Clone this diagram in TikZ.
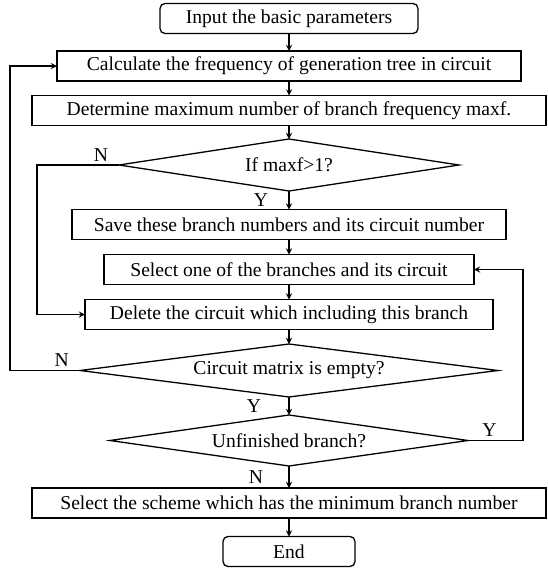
\documentclass[tikz,border=0pt]{standalone}
\usepackage{fontspec}
\setmainfont{Liberation Serif}
\usepackage{tikz}
\usetikzlibrary{positioning, arrows.meta, shapes.geometric}

\begin{document}
\begin{tikzpicture}[x=1pt,y=-1pt,>=stealth,node distance=15pt,font=\fontsize{19.6}{23}\selectfont]
\tikzstyle{process}=[draw=black,line width=1.3pt,rectangle,minimum height=30pt,inner sep=0pt,outer sep=0pt]
\tikzstyle{terminal}=[process,rounded corners=5pt]
\tikzstyle{decision}=[draw=black,line width=1.3pt,diamond,aspect=8,inner sep=0pt,outer sep=0pt]
\tikzstyle{line}=[->,line width=1.7pt]
\tikzstyle{lbl}=[inner sep=3pt]
\useasboundingbox (0,0) rectangle (547,571);

\node[terminal,minimum width=258pt] (input) at (289,18.5) {Input the basic parameters};
\node[process,minimum width=464pt] (calc) [below=17.5pt of input] {Calculate the frequency of generation tree in circuit};
\node[process,minimum width=514pt] (determine) [below=14.5pt of calc] {Determine maximum number of branch frequency maxf.};
\node[decision,minimum width=340pt,minimum height=52pt] (ifmax) [below=13.5pt of determine] {If maxf>1?};
\node[process,minimum width=434pt] (save) [below=18.5pt of ifmax] {Save these branch numbers and its circuit number};
\node[process,minimum width=370pt] (select) [below=15pt of save] {Select one of the branches and its circuit};
\node[process,minimum width=408pt] (delete) [below=15pt of select] {Delete the circuit which including this branch};
\node[decision,minimum width=418pt,minimum height=53pt] (empty) [below=14.5pt of delete] {Circuit matrix is empty?};
\node[decision,minimum width=358pt,minimum height=51pt] (unfinished) [below=18pt of empty] {Unfinished branch?};
\node[process,minimum width=514pt] (scheme) [below=22pt of unfinished] {Select the scheme which has the minimum branch number};
\node[terminal,minimum width=132pt] (finish) [below=18.5pt of scheme] {End};

\coordinate (outerL) at (10,0);
\coordinate (innerL) at (37,0);
\coordinate (outerR) at (523,0);

\draw[line] (input) -- (calc);
\draw[line] (calc) -- (determine);
\draw[line] (determine) -- (ifmax);
\draw[line] (ifmax) -- node[lbl,left=17pt] (yIf) {Y} (save);
\draw[line] (save) -- (select);
\draw[line] (select) -- (delete);
\draw[line] (delete) -- (empty);
\draw[line] (empty) -- node[lbl,left=24pt] (yEmpty) {Y} (unfinished);
\draw[line] (unfinished) -- node[lbl,left=22pt] (nUnf) {N} (scheme);
\draw[line] (scheme) -- (finish);

% feedback loops
\draw[line] (ifmax.west) -- node[lbl,above,pos=0.22] (nIf) {N} (ifmax.west -| innerL) |- (delete.west);
\draw[line] (empty.west) -- node[lbl,above,pos=0.26] (nEmpty) {N} (empty.west -| outerL) |- (calc.west);
\draw[line] (unfinished.east) -- node[lbl,above,pos=0.39] (yUnf) {Y} (unfinished.east -| outerR) |- (select.east);
\end{tikzpicture}
\end{document}
